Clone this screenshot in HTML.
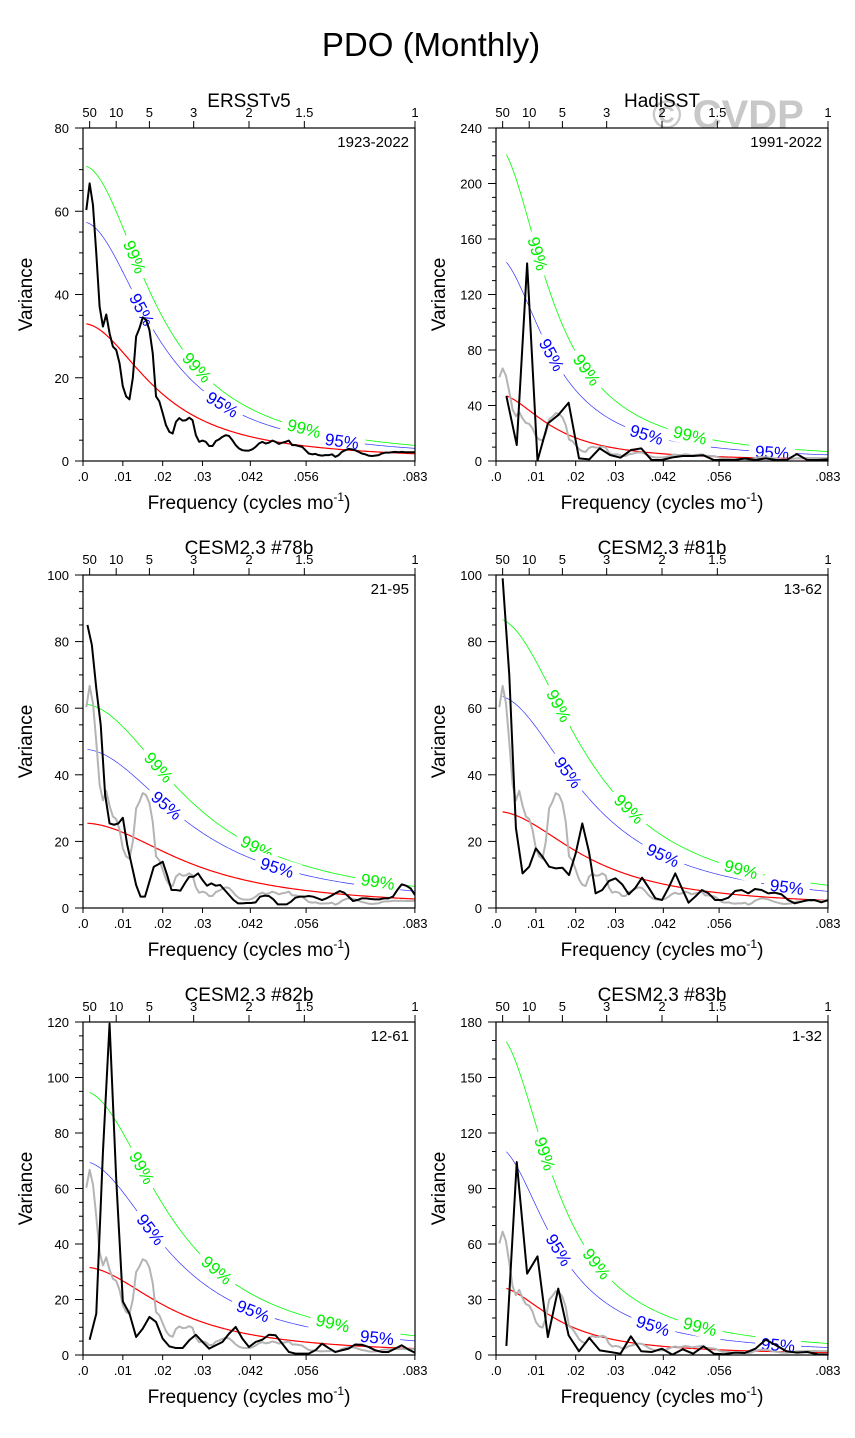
<!DOCTYPE html>
<html><head><meta charset="utf-8"><style>
body{margin:0;background:#fff;}
svg{display:block;font-family:"Liberation Sans",Arial,sans-serif;}
</style></head><body>
<svg id="fig" width="855" height="1438" viewBox="0 0 855 1438">
<text x="431" y="56" font-size="33" text-anchor="middle">PDO (Monthly)</text>
<text x="728" y="128" font-size="40" font-weight="bold" fill="#c8c8c8" text-anchor="middle">© CVDP</text>
</svg>
<script>
// Shared frequency axis
const xTickVals=[0,0.01,0.02,0.03,0.042,0.056,0.0833];
const xTickLabels=[".0",".01",".02",".03",".042",".056",".083"];
const periodTicks=[50,10,5,3,2,1.5,1];
const periodLabels=["50","10","5","3","2","1.5","1"];
const panelTitles=["ERSSTv5","HadiSST","CESM2.3 #78b","CESM2.3 #81b","CESM2.3 #82b","CESM2.3 #83b"];
const panelYears=["1923-2022","1991-2022","21-95","13-62","12-61","1-32"];
const yMaxes=[80,240,100,100,120,180];
const yMajors=[20,40,20,20,20,30];
const yMinors=[5,10,5,5,5,10];
const nMonths=[1200,384,900,600,600,384];
// red-noise params: lag-1 autocorrelation and spectrum value at f=0
const redR=[0.885,0.913,0.837,0.86,0.865,0.905];
const redS0=[33,48.5,25.5,29,31.7,37];
const fac95=[1.74,3.05,1.87,2.2,2.2,3.05];
const fac99=[2.15,4.7,2.4,3.0,3.0,4.7];
const lab99=[[0.013,0.0286,0.0555],[0.0105,0.0228,0.0487],[0.019,0.0437,0.074],[0.0158,0.0334,0.0615],[0.0148,0.0336,0.0627],[0.0123,0.0253,0.0512]];
const lab95=[[0.0148,0.035,0.065],[0.014,0.0378,0.0693],[0.021,0.0487],[0.0181,0.0419,0.073],[0.017,0.0427,0.0738],[0.0158,0.0394,0.0708]];
// Spectra (value at frequency k/nMonths, k=1..)
const ersst=[60.3,66.7,61.5,49.9,37.1,32.3,35.2,30.7,27.5,26.7,23.5,17.9,15.5,14.8,19.9,29.9,31.9,34.5,33.9,31.5,25.9,15.5,14.3,11.5,8.6,7.0,6.6,9.4,10.3,9.7,9.8,10.4,9.8,6.2,4.6,4.9,4.6,3.6,3.6,4.8,5.2,5.8,6.2,6.0,5.0,3.8,3.0,2.6,2.5,2.5,2.8,3.4,4.2,4.6,4.2,4.4,4.9,4.6,4.1,4.4,4.6,4.9,3.8,3.8,3.6,3.4,2.6,1.8,1.6,1.7,1.4,1.3,1.4,1.4,1.6,1.0,1.4,2.2,2.6,2.9,2.8,2.6,2.2,1.8,1.6,1.3,1.2,1.3,1.4,1.8,2.0,2.0,2.1,2.2,2.1,2.2,2.1,2.1,2.1,2.1];
const hadisst=[46.8,11.5,142.4,0.2,27.1,33.1,42.0,1.9,1.2,9.1,4.3,2.4,7.9,9.1,0.7,0.7,2.6,3.6,3.6,4.1,0.7,0.7,0.7,1.9,0.7,1.9,0.7,0.7,5.0,0.7,0.7,1.2];
const cesm78=[85,79,66,55,34,25.4,25,25.4,27.1,18.9,12.9,6.9,3.4,3.4,7.9,12.4,13.1,13.9,9.9,5.4,5.4,5.2,7.4,9.4,9.4,10.4,8.4,6.7,7.4,6.7,6.9,5.4,3.9,2.4,1.4,1.4,1.5,1.5,1.7,3.4,3.7,3.6,2.6,1.1,1.1,1.1,1.9,3.1,3.4,3.4,3.6,3.4,2.9,2.4,2.9,3.6,4.4,5.1,4.6,3.4,2.1,2.4,2.9,2.9,2.7,2.6,2.6,2.9,2.9,3.4,5.4,7.1,6.7,5.9,3.9];
const cesm81=[99,70,24,10.4,12.4,17.9,15.4,12.4,11.9,12.1,9.9,16.4,25.4,16.9,4.4,5.4,8.1,8.9,7.1,4.1,6.1,9.1,6.1,2.9,2.4,6.1,10.4,5.9,1.6,3.4,5.4,4.4,2.4,2.4,3.1,5.1,5.4,4.4,5.7,5.4,4.4,4.6,4.1,2.4,1.4,1.9,2.4,2.4,1.7,2.4];
const cesm82=[5.5,14.9,73,119.4,63.5,19.3,14.9,6.5,9.5,13.7,11.9,5.9,3.1,2.5,2.5,5.3,7.3,4.7,2.3,3.5,4.7,7.7,10.1,5.9,2.9,4.7,5.5,7.3,7.1,4.1,1.1,0.5,0.5,0.5,1.7,4.1,2.5,1.1,1.7,2.3,3.8,3.7,2.9,1.7,1.1,1.1,2.3,3.5,2.0,0.8];
const cesm83=[4.9,104.3,44,53.3,9.7,35.9,10.6,2.0,9.2,2.5,1.6,0.7,10.1,2.0,1.6,3.4,0.2,3.1,0.7,4.7,0.7,0.4,1.3,1.1,3.4,8.3,5.2,2.0,1.3,1.6,0.4,0.2];
const spectra=[ersst,hadisst,cesm78,cesm81,cesm82,cesm83];

const NS="http://www.w3.org/2000/svg";
const svg=document.getElementById('fig');
const panelPos=[[83,128],[496,128],[83,575],[496,575],[83,1022],[496,1022]];
const W=332,H=333,FMAX=1/12;
function mk(tag,attrs,parent){const e=document.createElementNS(NS,tag);for(const k in attrs)e.setAttribute(k,attrs[k]);(parent||svg).appendChild(e);return e;}

panelPos.forEach((pp,pi)=>{
  const [x0,y0]=pp;
  const g=mk('g',{});
  
  
  const ymax=yMaxes[pi];
  const X=f=>x0+f/FMAX*W;
  const Y=v=>y0+H-Math.min(v,ymax)/ymax*H;
  const t=mk('text',{x:x0+W/2,y:y0-21,'font-size':19,'text-anchor':'middle'},g);t.textContent=panelTitles[pi];
  
  
  const yr=mk('text',{x:x0+W-6,y:y0+19,'font-size':15,'text-anchor':'end'},g);yr.textContent=panelYears[pi];
  
  
  for(let v=0;v<=ymax+1e-9;v+=yMinors[pi]){
    const major=Math.abs(v/yMajors[pi]-Math.round(v/yMajors[pi]))<1e-6;
    mk('line',{x1:x0-(major?8:4),x2:x0,y1:Y(v),y2:Y(v),stroke:'#000','stroke-width':1},g);
    if(major){const l=mk('text',{x:x0-14,y:Y(v)+5,'font-size':13,'text-anchor':'end'},g);l.textContent=v;
      
      }
  }
  xTickVals.forEach((f,i)=>{
    mk('line',{x1:X(f),x2:X(f),y1:y0+H,y2:y0+H+5,stroke:'#000'},g);
    const l=mk('text',{x:X(f),y:y0+H+20,'font-size':13,'text-anchor':'middle'},g);l.textContent=xTickLabels[i];
    
    
  });
  periodTicks.forEach((p,i)=>{
    const f=1/(12*p);
    mk('line',{x1:X(f),x2:X(f),y1:y0-7,y2:y0,stroke:'#000'},g);
    const l=mk('text',{x:X(f),y:y0-11,'font-size':13,'text-anchor':'middle'},g);l.textContent=periodLabels[i];
    
    
  });
  const yt=mk('text',{x:0,y:0,'font-size':19,'text-anchor':'middle',transform:`translate(${x0-51},${y0+H/2}) rotate(-90)`},g);yt.textContent='Variance';
  
  
  const xt=mk('text',{x:x0+W/2,y:y0+H+48,'font-size':19,'text-anchor':'middle'},g);
  xt.innerHTML='Frequency (cycles mo<tspan dy="-8" font-size="12">-1</tspan><tspan dy="8">)</tspan>';
  
  

  const cp='clip'+pi;
  const defs=mk('defs',{},g);const c=mk('clipPath',{id:cp},defs);mk('rect',{x:x0,y:y0,width:W,height:H},c);
  const pg=mk('g',{'clip-path':`url(#${cp})`},g);
  const r=redR[pi],S0=redS0[pi],n=nMonths[pi];
  const red=f=>S0*(1-r)*(1-r)/(1+r*r-2*r*Math.cos(2*Math.PI*f));
  const f1=1/n;
  function curve(fac){let d='';for(let k=0;k<=200;k++){const f=f1+(FMAX-f1)*k/200;d+=(k?'L':'M')+X(f).toFixed(2)+','+Y(red(f)*fac).toFixed(2);}return d;}
  const c99=mk('path',{d:curve(fac99[pi]),fill:'none',stroke:'#00ff00','stroke-width':0.8},pg);
  
  
  const c95=mk('path',{d:curve(fac95[pi]),fill:'none',stroke:'#3333ff','stroke-width':0.7},pg);
  
  
  function label(f,fac,txt,col){
    const x=X(f),y=Y(red(f)*fac);
    const dx=X(f+0.0005)-X(f-0.0005),dy=Y(red(f+0.0005)*fac)-Y(red(f-0.0005)*fac);
    const ang=Math.atan2(dy,dx)*180/Math.PI;
    const lg=mk('g',{transform:`translate(${x},${y}) rotate(${ang})`},pg);
    mk('rect',{x:-23,y:-10,width:46,height:20,fill:'#fff'},lg);
    const tt=mk('text',{x:0,y:6,'font-size':17,'text-anchor':'middle',fill:col},lg);tt.textContent=txt;
    
    
  }
  lab99[pi].forEach(f=>label(f,fac99[pi],'99%','#00ee00'));
  lab95[pi].forEach(f=>label(f,fac95[pi],'95%','#0000ff'));
  const rc=mk('path',{d:curve(1),fill:'none',stroke:'#ff0000','stroke-width':1.2},pg);
  
  
  function series(arr,nm,col,wd,name){
    let d='';arr.forEach((v,k)=>{d+=(k?'L':'M')+X((k+1)/nm).toFixed(2)+','+Y(v).toFixed(2);});
    const p=mk('path',{d:d,fill:'none',stroke:col,'stroke-width':wd,'stroke-linejoin':'round'},pg);
    
    
  }
  if(pi>0) series(ersst,nMonths[0],'#b4b4b4',2,'ersst-reference-spectrum');
  series(spectra[pi],n,'#000',2,'spectrum-line');
  const fr=mk('rect',{x:x0,y:y0,width:W,height:H,fill:'none',stroke:'#000','stroke-width':1.2},g);
  
  
});
</script>
</body></html>
